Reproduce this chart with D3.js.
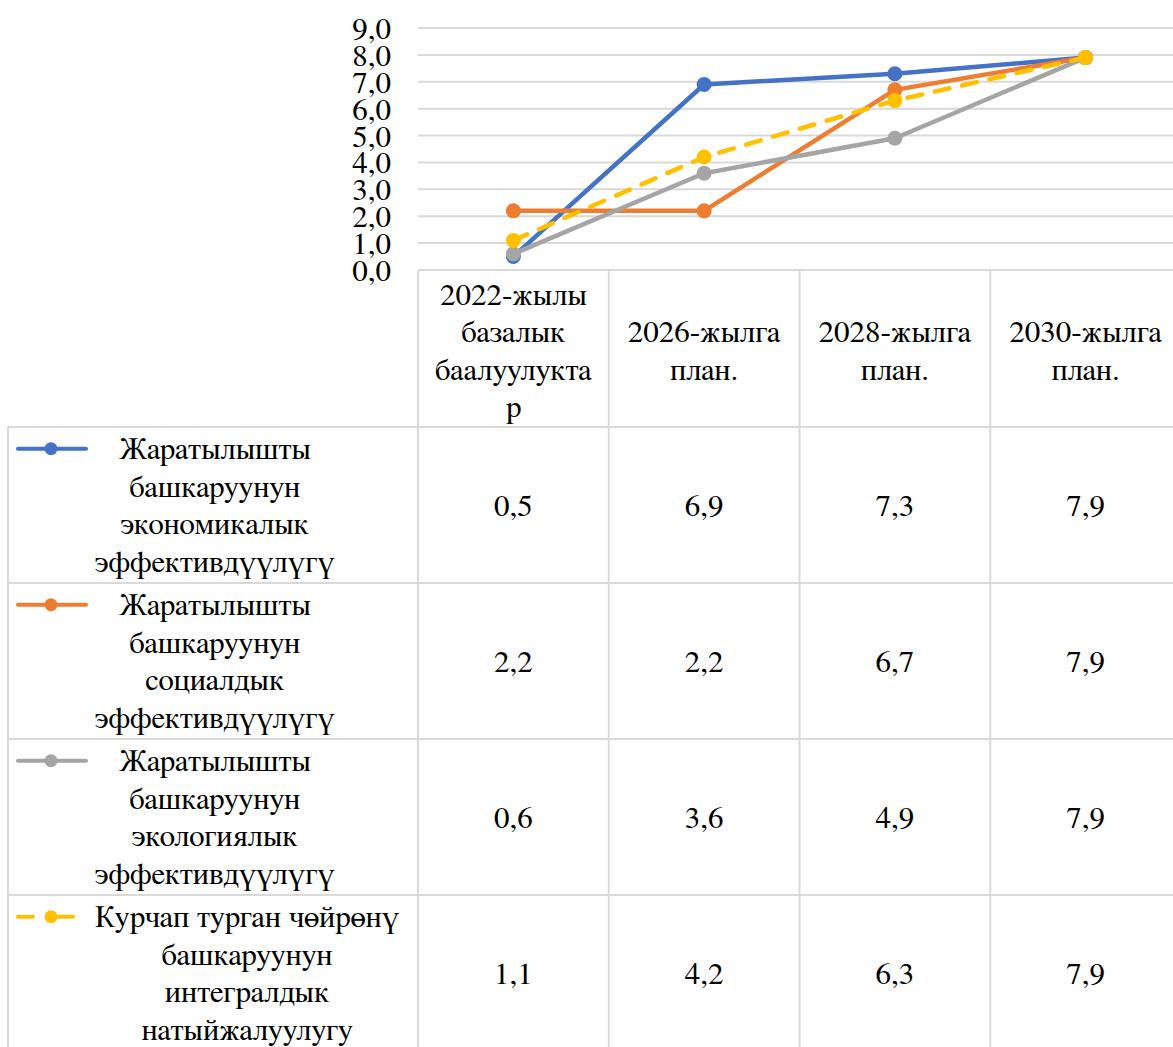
<!DOCTYPE html>
<html>
<head>
<meta charset="utf-8">
<script src="https://cdn.jsdelivr.net/npm/d3@7"></script>
</head>
<body style="margin:0; background:#fff; overflow:hidden">
<svg id="chart" width="1173" height="1047" style="display:block"></svg>
<script>
// Categories (header of the data table) and their wrapped labels
const categories = ["2022", "2026", "2028", "2030"];
const categoryLabels = [
  ["2022-жылы", "базалык", "баалуулукта", "р"],
  ["2026-жылга", "план."],
  ["2028-жылга", "план."],
  ["2030-жылга", "план."]
];

// Series names (legend column of the table)
const seriesNames = [
  ["Жаратылышты", "башкаруунун", "экономикалык", "эффективдүүлүгү"],
  ["Жаратылышты", "башкаруунун", "социалдык", "эффективдүүлүгү"],
  ["Жаратылышты", "башкаруунун", "экологиялык", "эффективдүүлүгү"],
  ["Курчап турган чөйрөнү", "башкаруунун", "интегралдык", "натыйжалуулугу"]
];

// Series values
const economic   = [0.5, 6.9, 7.3, 7.9];
const social     = [2.2, 2.2, 6.7, 7.9];
const ecological = [0.6, 3.6, 4.9, 7.9];
const integral   = [1.1, 4.2, 6.3, 7.9];

// Y-axis ticks
const yTicks = [0, 1, 2, 3, 4, 5, 6, 7, 8, 9];

const series = [
  { values: economic,   color: "#4472C4", dash: null },
  { values: social,     color: "#ED7D31", dash: null },
  { values: ecological, color: "#A5A5A5", dash: null },
  { values: integral,   color: "#FFC000", dash: "15,13" }
];

const svg = d3.select("#chart");
const FAMILY = "FreeSerif";
const FONT = 31;
const LINE_H = 37.5;
const gridColor = "#D9D9D9";

// Plot and table geometry
const plotLeft = 418, plotRight = 1181, plotTop = 28, plotBottom = 270;
const tableLeft = 8, headerBottom = 427, rowH = 156;

const x = d3.scaleBand().domain(categories).range([plotLeft, plotRight]);
const y = d3.scaleLinear().domain([0, 9]).range([plotBottom, plotTop]);
const fmt = v => d3.format(".1f")(v).replace(".", ",");
const styleText = sel => sel
  .attr("font-family", FAMILY)
  .attr("font-size", FONT)
  .attr("fill", "#000");

// Horizontal gridlines
svg.append("g").selectAll("line").data(yTicks).join("line")
  .attr("x1", plotLeft).attr("x2", plotRight)
  .attr("y1", d => y(d)).attr("y2", d => y(d))
  .attr("stroke", gridColor).attr("stroke-width", 2);

// Y axis labels
const yAxis = d3.axisLeft(y).tickValues(yTicks).tickFormat(fmt).tickSize(0).tickPadding(0);
const gy = svg.append("g").attr("transform", "translate(391,0)").call(yAxis);
gy.select(".domain").remove();
gy.selectAll("text").call(styleText).attr("dy", "0.34em");

// Data table grid
const rowsTop = headerBottom;
const tableBottom = rowsTop + rowH * seriesNames.length;
const grid = svg.append("g").attr("stroke", gridColor).attr("stroke-width", 2);
const bounds = categories.map(c => x(c)).concat([plotRight]);
grid.selectAll("line.v").data(bounds).join("line").attr("class", "v")
  .attr("x1", d => d).attr("x2", d => d).attr("y1", plotBottom).attr("y2", tableBottom);
grid.append("line")
  .attr("x1", tableLeft).attr("x2", tableLeft).attr("y1", headerBottom).attr("y2", tableBottom);
grid.selectAll("line.h")
  .data(d3.range(seriesNames.length + 1).map(i => rowsTop + i * rowH))
  .join("line").attr("class", "h")
  .attr("x1", tableLeft).attr("x2", plotRight).attr("y1", d => d).attr("y2", d => d);

// Header labels
const headerMid = (plotBottom + headerBottom) / 2 + 2;
categories.forEach((c, i) => {
  const lines = categoryLabels[i];
  const cx = x(c) + x.bandwidth() / 2;
  const t = svg.append("text").attr("text-anchor", "middle").call(styleText);
  lines.forEach((ln, j) => {
    t.append("tspan").attr("x", cx)
      .attr("y", headerMid + (j - (lines.length - 1) / 2) * LINE_H)
      .attr("dy", "0.34em").text(ln);
  });
});

// Table rows: legend keys, names and values
series.forEach((s, i) => {
  const top = rowsTop + i * rowH;
  const mid = top + rowH / 2;
  const names = seriesNames[i];
  const firstY = mid - (names.length - 1) / 2 * LINE_H;

  const key = svg.append("g");
  key.append("line")
    .attr("x1", 18).attr("x2", 86).attr("y1", firstY).attr("y2", firstY)
    .attr("stroke", s.color).attr("stroke-width", 4).attr("stroke-linecap", "round")
    .attr("stroke-dasharray", s.dash ? "15,25" : null);
  key.append("circle").attr("cx", 51).attr("cy", firstY).attr("r", 6.5).attr("fill", s.color);

  // name lines centred on the widest line
  const t = svg.append("text").attr("text-anchor", "middle").call(styleText);
  const spans = names.map((ln, j) =>
    t.append("tspan").attr("y", mid + (j - (names.length - 1) / 2) * LINE_H)
      .attr("dy", "0.34em").text(ln));
  const maxW = d3.max(spans, sp => sp.node().getComputedTextLength());
  spans.forEach(sp => sp.attr("x", 95 + maxW / 2));

  svg.append("g").selectAll("text").data(s.values).join("text")
    .attr("x", (d, k) => x(categories[k]) + x.bandwidth() / 2)
    .attr("y", mid).attr("dy", "0.34em").attr("text-anchor", "middle")
    .call(styleText)
    .text(d => fmt(d));
});

// Lines and markers
const line = d3.line()
  .x((d, k) => x(categories[k]) + x.bandwidth() / 2)
  .y(d => y(d));

series.forEach(s => {
  const g = svg.append("g");
  g.append("path").datum(s.values).attr("d", line).attr("fill", "none")
    .attr("stroke", s.color).attr("stroke-width", 4.5)
    .attr("stroke-linejoin", "round").attr("stroke-linecap", "round")
    .attr("stroke-dasharray", s.dash);
  g.selectAll("circle").data(s.values).join("circle")
    .attr("cx", (d, k) => x(categories[k]) + x.bandwidth() / 2)
    .attr("cy", d => y(d)).attr("r", 7.5).attr("fill", s.color);
});
</script>
</body>
</html>
